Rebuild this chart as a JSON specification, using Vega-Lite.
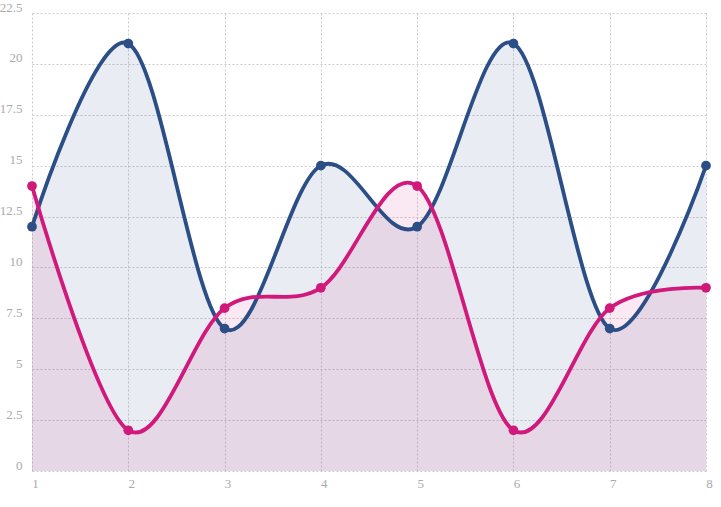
{
  "$schema": "https://vega.github.io/schema/vega-lite/v6.json",
  "width": 674,
  "height": 458,
  "autosize": "none",
  "padding": {"left": 32, "top": 13, "right": 15, "bottom": 36},
  "background": "white",
  "config": {"view": {"stroke": null}},
  "data": {
    "values": [
      {"x": 1, "series": "A", "value": 12},
      {"x": 2, "series": "A", "value": 21},
      {"x": 3, "series": "A", "value": 7},
      {"x": 4, "series": "A", "value": 15},
      {"x": 5, "series": "A", "value": 12},
      {"x": 6, "series": "A", "value": 21},
      {"x": 7, "series": "A", "value": 7},
      {"x": 8, "series": "A", "value": 15},
      {"x": 1, "series": "B", "value": 14},
      {"x": 2, "series": "B", "value": 2},
      {"x": 3, "series": "B", "value": 8},
      {"x": 4, "series": "B", "value": 9},
      {"x": 5, "series": "B", "value": 14},
      {"x": 6, "series": "B", "value": 2},
      {"x": 7, "series": "B", "value": 8},
      {"x": 8, "series": "B", "value": 9}
    ]
  },
  "encoding": {
    "x": {
      "field": "x", "type": "quantitative",
      "scale": {"domain": [1, 8], "nice": false, "zero": false},
      "axis": {
        "title": null, "values": [1, 2, 3, 4, 5, 6, 7, 8], "domain": false, "ticks": false,
        "grid": true, "gridColor": "#cccccc", "gridDash": [2, 2], "gridWidth": 1,
        "labelFont": "Liberation Serif", "labelFontSize": 13, "labelColor": "#aaaaaa",
        "labelPadding": 6, "labelOffset": 3, "labelFlush": false
      }
    },
    "y": {
      "field": "value", "type": "quantitative",
      "scale": {"domain": [0, 22.5], "nice": false},
      "axis": {
        "title": null, "values": [0, 2.5, 5, 7.5, 10, 12.5, 15, 17.5, 20, 22.5],
        "labelExpr": "datum.value + ''",
        "domain": false, "ticks": false,
        "grid": true, "gridColor": "#cccccc", "gridDash": [2, 2], "gridWidth": 1,
        "labelFont": "Liberation Serif", "labelFontSize": 13, "labelColor": "#aaaaaa",
        "labelPadding": 10, "labelBaseline": "alphabetic", "labelOffset": -2, "labelFlush": false
      }
    },
    "color": {
      "field": "series", "type": "nominal",
      "scale": {"domain": ["A", "B"], "range": ["#2b4e86", "#d0197b"]},
      "legend": null
    }
  },
  "layer": [
    {
      "mark": {"type": "area", "interpolate": "cardinal", "opacity": 0.1},
      "encoding": {"y": {"field": "value", "type": "quantitative", "stack": null}}
    },
    {
      "mark": {"type": "line", "interpolate": "cardinal", "strokeWidth": 3.8}
    },
    {
      "mark": {"type": "circle", "size": 95, "opacity": 1}
    }
  ]
}
